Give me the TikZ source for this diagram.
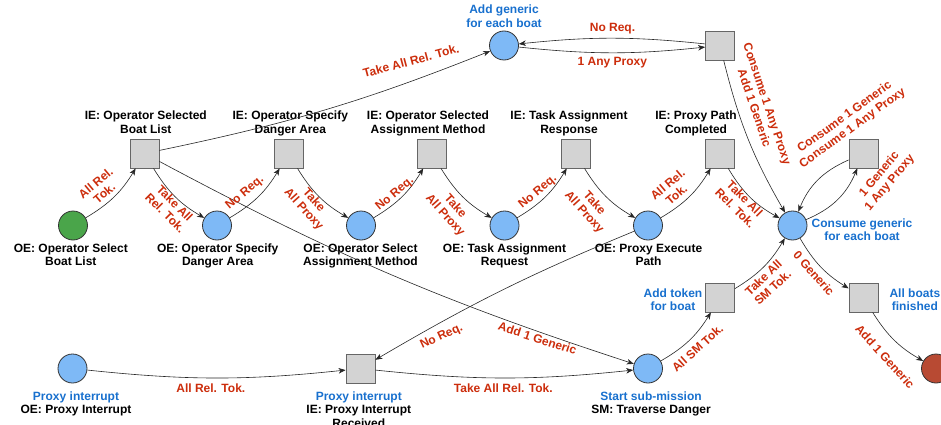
\documentclass[tikz,border=0pt]{standalone}
\usepackage{fontspec}
\setmainfont{Liberation Sans}
\usetikzlibrary{arrows.meta}

\definecolor{placeblue}{RGB}{126,185,246}
\definecolor{placegreen}{RGB}{74,165,74}
\definecolor{placered}{RGB}{184,74,51}
\definecolor{transgray}{RGB}{211,211,211}
\definecolor{labelred}{RGB}{204,45,12}
\definecolor{labelblue}{RGB}{24,112,206}

\begin{document}
\begin{tikzpicture}[x=1pt,y=-1pt,
  placenode/.style={circle,draw=black!80,line width=0.8pt,minimum size=29pt,inner sep=0pt},
  trans/.style={rectangle,draw=black!60,fill=transgray,line width=0.8pt,minimum size=29pt,inner sep=0pt},
  txt/.style={font=\fontsize{12}{13.5}\selectfont\bfseries,align=center,inner sep=0pt,
    execute at begin node=\strut,execute at end node=\strut},
  lbl/.style={font=\fontsize{12}{13.5}\selectfont\bfseries,align=center,inner sep=0pt,text=labelred},
  flow/.style={-{Stealth[length=7pt,width=5.5pt,inset=2pt]},line width=0.6pt,draw=black!85}]

\useasboundingbox (0,0) rectangle (941,425);

% Operator chain
\node[placenode,fill=placegreen] (selBoat) at (73,225.5) {};
\node[trans] (tSelBoat) at (144.5,153.5) {};
\node[placenode,fill=placeblue] (specArea) at (217,225.5) {};
\node[trans] (tSpecArea) at (288.5,153.5) {};
\node[placenode,fill=placeblue] (selMethod) at (361,225.5) {};
\node[trans] (tSelMethod) at (432,153.5) {};
\node[placenode,fill=placeblue] (taskReq) at (504.5,225.5) {};
\node[trans] (tTaskResp) at (575.5,153.5) {};
\node[placenode,fill=placeblue] (execPath) at (648,225.5) {};
\node[trans] (tPathDone) at (719.5,153.5) {};
\node[placenode,fill=placeblue] (consume) at (792.5,225.5) {};
\node[trans] (tConsume) at (863.5,153.5) {};

% Generic tokens
\node[placenode,fill=placeblue] (addGen) at (504,45.5) {};
\node[trans] (tAddGen) at (720,45.5) {};

% Interrupt and sub-mission
\node[placenode,fill=placeblue] (interrupt) at (72.5,368.5) {};
\node[trans] (tInterrupt) at (360.5,368.5) {};
\node[placenode,fill=placeblue] (subMission) at (648,368.5) {};
\node[trans] (tAddToken) at (720,297.5) {};
\node[trans] (tFinished) at (863.5,297.5) {};
\node[placenode,fill=placered] (done) at (936,368.5) {};

% Node texts
\node[txt,below] (lSelBoat) at (70.8,243.5) {OE: Operator Select\\Boat List};
\node[txt,above] (lTSelBoat) at (145.8,137.4) {IE: Operator Selected\\Boat List};
\node[txt,below] (lSpecArea) at (217.7,243.5) {OE: Operator Specify\\Danger Area};
\node[txt,above] (lTSpecArea) at (290.3,137.4) {IE: Operator Specify\\Danger Area};
\node[txt,below] (lSelMethod) at (360.5,243.5) {OE: Operator Select\\Assignment Method};
\node[txt,above] (lTSelMethod) at (428,137.4) {IE: Operator Selected\\Assignment Method};
\node[txt,below] (lTaskReq) at (504.5,243.5) {OE: Task Assignment\\Request};
\node[txt,above] (lTTaskResp) at (569,137.4) {IE: Task Assignment\\Response};
\node[txt,below] (lExecPath) at (648.5,243.5) {OE: Proxy Execute\\Path};
\node[txt,above] (lTPathDone) at (696,137.4) {IE: Proxy Path\\Completed};
\node[txt,text=labelblue,anchor=north west] (lConsume) at (811.5,218.5) {Consume generic\\for each boat};
\node[txt,text=labelblue,above] (lAddGen) at (504,31.3) {Add generic\\for each boat};
\node[txt,below] (lInterrupt) at (76,391.2) {\textcolor{labelblue}{Proxy interrupt}\\OE: Proxy Interrupt};
\node[txt,below] (lTInterrupt) at (358.8,391.2) {\textcolor{labelblue}{Proxy interrupt}\\IE: Proxy Interrupt\\Received};
\node[txt,below] (lSubMission) at (651,391.2) {\textcolor{labelblue}{Start sub-mission}\\SM: Traverse Danger};
\node[txt,text=labelblue,anchor=north east] (lAddToken) at (702.5,288.5) {Add token\\for boat};
\node[txt,text=labelblue,anchor=north west] (lFinished) at (889.3,288.5) {All boats\\finished};

% Arcs
\draw[flow] (selBoat) to[bend right=14] (tSelBoat);
\draw[flow] (tSelBoat) to[bend right=14] (specArea);
\draw[flow] (specArea) to[bend right=14] (tSpecArea);
\draw[flow] (tSpecArea) to[bend right=14] (selMethod);
\draw[flow] (selMethod) to[bend right=14] (tSelMethod);
\draw[flow] (tSelMethod) to[bend right=14] (taskReq);
\draw[flow] (taskReq) to[bend right=14] (tTaskResp);
\draw[flow] (tTaskResp) to[bend right=14] (execPath);
\draw[flow] (execPath) to[bend right=14] (tPathDone);
\draw[flow] (tPathDone) to[bend right=15] (consume);
\draw[flow] (tSelBoat) to[bend right=5] (addGen);
\draw[flow] (tAddGen) to[bend right=6] (addGen);
\draw[flow] (addGen) to[bend right=6] (tAddGen);
\draw[flow] (tAddGen) to[bend right=8] (consume);
\draw[flow] (tConsume) to[bend right=22] (consume);
\draw[flow] (consume) to[bend right=22] (tConsume);
\draw[flow] (consume) to[bend right=14] (tFinished);
\draw[flow] (tFinished) to[bend right=14] (done);
\draw[flow] (tSelBoat) to[bend right=5] (subMission);
\draw[flow] (execPath) to[bend right=4] (tInterrupt);
\draw[flow] (interrupt) to[bend right=6] (tInterrupt);
\draw[flow] (tInterrupt) to[bend right=6] (subMission);
\draw[flow] (subMission) to[bend right=14] (tAddToken);
\draw[flow] (tAddToken) to[bend right=14] (consume);

% Arc labels
\node[lbl,rotate=40] (eSelBoat) at (100,188) {All Rel.\\Tok.};
\node[lbl,rotate=-45] (eTSelBoat) at (170,208) {Take All\\Rel. Tok.};
\node[lbl,rotate=40] (eSpecArea) at (245,193) {No Req.};
\node[lbl,rotate=-48] (eTSpecArea) at (308.5,205) {Take\\All Proxy};
\node[lbl,rotate=40] (eSelMethod) at (395,194) {No Req.};
\node[lbl,rotate=-48] (eTSelMethod) at (450,211) {Take\\All Proxy};
\node[lbl,rotate=40] (eTaskReq) at (538,192) {No Req.};
\node[lbl,rotate=-48] (eTTaskResp) at (589,208) {Take\\All Proxy};
\node[lbl,rotate=40] (eExecPath) at (672,189.5) {All Rel.\\Tok.};
\node[lbl,rotate=-45] (eTPathDone) at (740,203.3) {Take All\\Rel. Tok.};
\node[lbl,rotate=15] (eAddGenIn) at (411,61) {Take All Rel. Tok.};
\node[lbl] (eNoReq) at (612.5,28.7) {No Req.};
\node[lbl] (eAnyProxy) at (612.3,62.3) {1 Any Proxy};
\node[lbl,rotate=-71.4] (eTAddGen) at (761,106) {Consume 1 Any Proxy\\Add 1 Generic};
\node[lbl,rotate=36] (eTConsume) at (848.7,122.8) {Consume 1 Generic\\Consume 1 Any Proxy};
\node[lbl,rotate=50] (eConsume) at (884.7,178.7) {1 Generic\\1 Any Proxy};
\node[lbl,rotate=-48.5] (eZero) at (814,273.3) {0 Generic};
\node[lbl,rotate=-48] (eFinished) at (885,356.7) {Add 1 Generic};
\node[lbl,rotate=-18] (eSubMission) at (537.5,338.3) {Add 1 Generic};
\node[lbl,rotate=25] (eInterruptIn) at (441.7,336.7) {No Req.};
\node[lbl] (eInterrupt) at (210.8,388.5) {All Rel. Tok.};
\node[lbl] (eTInterrupt) at (503.3,388.5) {Take All Rel. Tok.};
\node[lbl,rotate=42] (eSubOut) at (697.5,348.3) {All SM Tok.};
\node[lbl,rotate=43] (eAddToken) at (768,282.5) {Take All\\SM Tok.};

\end{tikzpicture}
\end{document}
